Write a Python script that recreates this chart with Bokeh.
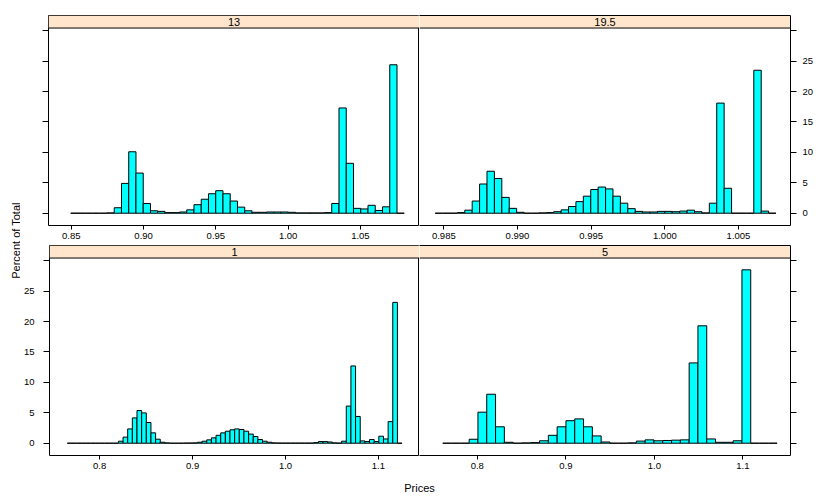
import math
from bokeh.plotting import figure
from bokeh.models import (Range1d, FixedTicker, PrintfTickFormatter, LinearAxis,
                          BoxAnnotation, Label, Span, ColumnDataSource)
from bokeh.layouts import row, column
from bokeh.embed import file_html
from bokeh.resources import INLINE

FONT = "Liberation Sans"
BAR_FILL = "#00FFFF"
STRIP_FILL = "#FFE5CC"

# ---------------- data (percent of total per bin) ----------------
# panel "13"
TL_NAME = "13"
TL_START = 0.84957
TL_BINW = 0.005017
TL_PCT = [0, 0, 0, 0, 0, 0.05,
          0.9, 4.9, 10.1, 6.6, 1.6, 0.4, 0.3, 0.1, 0.1, 0.2,
          0.55, 1.4, 2.3, 3.2, 3.7, 3.2, 2.0, 1.0, 0.4, 0.15,
          0.15, 0.2, 0.2, 0.2, 0.15, 0.05, 0.05, 0.05, 0.05, 0.1,
          1.6, 17.3, 8.2, 0.8, 0.7, 1.3, 0.45, 1.05, 24.4, 0]
TL_XLIM = (0.8342, 1.0909)
TL_XTICKS = [0.85, 0.90, 0.95, 1.00, 1.05]
TL_XFMT = "%.2f"

# panel "19.5"
TR_NAME = "19.5"
TR_START = 0.98441
TR_BINW = 0.000503
TR_PCT = [0, 0, 0, 0.1, 0.5, 2.0, 4.8, 6.9, 5.7, 2.6,
          0.8, 0.15, 0, 0, 0.05, 0.1, 0.25, 0.55, 1.1, 1.9,
          2.8, 3.9, 4.3, 4.0, 2.8, 1.65, 0.75, 0.3, 0.2, 0.2,
          0.3, 0.3, 0.25, 0.35, 0.5, 0.25, 0.05, 1.65, 18.1, 4.1,
          0, 0, 0, 23.5, 0.35, 0]
TR_XLIM = (0.98335, 1.00853)
TR_XTICKS = [0.985, 0.990, 0.995, 1.000, 1.005]
TR_XFMT = "%.3f"

# panel "1"
BL_NAME = "1"
BL_START = 0.76509
BL_BINW = 0.005005
BL_PCT = [0, 0, 0, 0, 0, 0, 0, 0, 0, 0,
          0, 0.33, 1.0, 2.35, 4.16, 5.37, 4.98, 3.4, 1.7, 0.66,
          0.16, 0.05, 0, 0, 0, 0.02, 0.03, 0.05, 0.16, 0.33,
          0.55, 0.88, 1.3, 1.7, 1.97, 2.2, 2.35, 2.25, 1.97, 1.5,
          1.1, 0.6, 0.33, 0.16, 0.05, 0.03, 0.02, 0.02, 0.02, 0.02,
          0.02, 0.02, 0.02, 0.1, 0.27, 0.27, 0.2, 0.05, 0.02, 0.33,
          6.1, 12.7, 4.4, 0.38, 0.27, 0.6, 0.27, 1.15, 0.7, 3.55,
          23.15, 0]
BL_XLIM = (0.7460, 1.1442)
BL_XTICKS = [0.8, 0.9, 1.0, 1.1]
BL_XFMT = "%.1f"

# panel "5"
BR_NAME = "5"
BR_START = 0.76105
BR_BINW = 0.009936
BR_PCT = [0, 0, 0, 0.65, 5.1, 8.05, 2.7, 0.15, 0, 0.05,
          0.1, 0.4, 1.3, 2.7, 3.7, 4.0, 2.7, 1.2, 0.2, 0,
          0, 0.05, 0.35, 0.55, 0.4, 0.45, 0.5, 0.55, 13.2, 19.3,
          0.7, 0.15, 0.15, 0.4, 28.5, 0, 0, 0]
BR_XLIM = (0.7348, 1.1537)
BR_XTICKS = [0.8, 0.9, 1.0, 1.1]
BR_XFMT = "%.1f"

YLIM = (-2.02, 30.44)
STRIP_TOP = 32.5
Y_TICKS = [0, 5, 10, 15, 20, 25, 30]
X_LABEL = "Prices"
Y_LABEL = "Percent of Total"


def style_axis(ax, tick_out, standoff, show_labels=True, line=False):
    ax.axis_line_color = "black" if line else None
    ax.axis_line_width = 1
    ax.major_tick_in = 0
    ax.major_tick_out = tick_out
    ax.major_tick_line_color = "black"
    ax.major_tick_line_width = 1
    ax.minor_tick_line_color = None
    ax.major_label_standoff = standoff
    ax.major_label_text_font = FONT
    ax.major_label_text_font_size = "9.5px"
    ax.major_label_text_color = "black" if show_labels else None


def panel(name, start, binw, pct, xlim, xticks, xfmt, yside, ylabels,
          width, height, mbl, mbr, mbt, mbb):
    # left-hand panels own the full frame outline; right-hand panels draw
    # their borders with axis lines so the shared divider stays one line
    own_outline = (yside == "left")
    p = figure(width=width, height=height, title=None,
               x_range=Range1d(*xlim), y_range=Range1d(YLIM[0], STRIP_TOP),
               output_backend="svg", toolbar_location=None,
               y_axis_location=None,
               min_border_left=mbl, min_border_right=mbr,
               min_border_top=mbt, min_border_bottom=mbb)
    p.grid.visible = False
    p.background_fill_color = "white"
    p.border_fill_color = "white"
    p.outline_line_color = "black" if own_outline else None
    p.outline_line_width = 1
    p.outline_line_alpha = 1

    n = len(pct)
    src = ColumnDataSource(dict(
        left=[start + i * binw for i in range(n)],
        right=[start + (i + 1) * binw for i in range(n)],
        top=pct))
    p.quad(left="left", right="right", bottom=0, top="top", source=src,
           fill_color=BAR_FILL, line_color="black", line_width=1)

    xa = p.xaxis[0]
    xa.ticker = FixedTicker(ticks=xticks)
    xa.formatter = PrintfTickFormatter(format=xfmt)
    style_axis(xa, 4, 3, True, not own_outline)

    ya = LinearAxis(ticker=FixedTicker(ticks=Y_TICKS),
                    major_label_overrides={30: ""})
    style_axis(ya, 6, 9 if yside == "left" else 6, ylabels, not own_outline)
    p.add_layout(ya, yside)

    if not own_outline:
        top_ax = LinearAxis(ticker=FixedTicker(ticks=[]))
        style_axis(top_ax, 0, 0, False, True)
        top_ax.major_label_text_font_size = "0px"
        p.add_layout(top_ax, "above")

    strip = BoxAnnotation(bottom=YLIM[1], fill_color=STRIP_FILL, fill_alpha=1,
                          line_color=None, level="underlay")
    p.add_layout(strip)
    p.add_layout(Span(location=YLIM[1], dimension="width",
                      line_color="black", line_width=1))
    p.add_layout(Label(x=(xlim[0] + xlim[1]) / 2, y=(YLIM[1] + STRIP_TOP) / 2,
                       text=name, text_align="center", text_baseline="middle",
                       text_font=FONT, text_font_size="11px",
                       text_color="black"))
    return p


tl = panel(TL_NAME, TL_START, TL_BINW, TL_PCT, TL_XLIM, TL_XTICKS, TL_XFMT,
           "left", False, 399, 244, 28, 0, 15, 19)
tr = panel(TR_NAME, TR_START, TR_BINW, TR_PCT, TR_XLIM, TR_XTICKS, TR_XFMT,
           "right", True, 411, 244, 0, 40, 15, 19)
bl = panel(BL_NAME, BL_START, BL_BINW, BL_PCT, BL_XLIM, BL_XTICKS, BL_XFMT,
           "left", True, 399, 230, 28, 0, 1, 19)
br = panel(BR_NAME, BR_START, BR_BINW, BR_PCT, BR_XLIM, BR_XTICKS, BR_XFMT,
           "right", False, 411, 230, 0, 40, 1, 19)

ylab = figure(width=20, height=498, title=None, x_range=Range1d(0, 1),
              y_range=Range1d(0, 1), output_backend="svg",
              toolbar_location=None, x_axis_location=None,
              y_axis_location=None, min_border=0)
ylab.grid.visible = False
ylab.outline_line_color = None
ylab.add_layout(Label(x=0.75, y=0.518, text=Y_LABEL, angle=math.pi / 2,
                      text_align="center", text_baseline="alphabetic",
                      text_font=FONT, text_font_size="11px",
                      text_color="black"))

xlab = figure(width=810, height=24, title=None, x_range=Range1d(0, 1),
              y_range=Range1d(0, 1), output_backend="svg",
              toolbar_location=None, x_axis_location=None,
              y_axis_location=None, min_border=0,
              min_border_left=28, min_border_right=40)
xlab.grid.visible = False
xlab.outline_line_color = None
xlab.add_layout(Label(x=0.5, y=0.417, text=X_LABEL, text_align="center",
                      text_baseline="alphabetic", text_font=FONT,
                      text_font_size="11px", text_color="black"))

layout = row(ylab, column(row(tl, tr), row(bl, br), xlab))

with open("out.html", "w") as f:
    f.write(file_html(layout, INLINE))
